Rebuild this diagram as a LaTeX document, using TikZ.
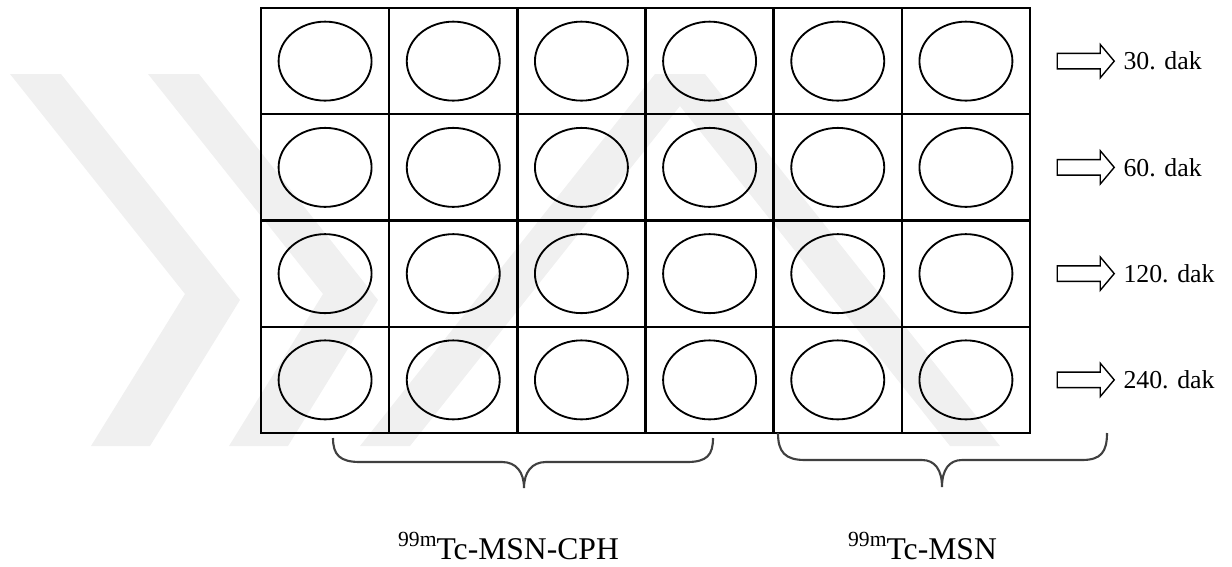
\documentclass[tikz,border=0pt]{standalone}
\usepackage{fontspec}
\setmainfont{Liberation Serif}
\usetikzlibrary{shapes.geometric,shapes.arrows,positioning}

\newcommand{\iso}[1]{{\fontsize{12.3}{14}\selectfont\raisebox{0.26cm}{#1}}}

\begin{document}
\begin{tikzpicture}[x=0.02cm, y=-0.02cm]
    \tikzset{cell/.style={draw, line width=1.4pt, minimum width=2.5634cm,
             minimum height=2.125cm, inner sep=0},
             well/.style={draw, ellipse, line width=1.05pt, minimum width=1.86cm,
             minimum height=1.58cm, inner sep=0},
             tarrow/.style={draw, single arrow, line width=0.8pt, minimum height=1.14cm,
             inner xsep=0, inner ysep=0.14cm, single arrow head extend=0.18cm,
             single arrow tip angle=100},
             tlabel/.style={font=\fontsize{14.7}{17}\selectfont, inner sep=0},
             glabel/.style={font=\fontsize{18}{21}\selectfont, inner sep=0, anchor=base},
             bracepath/.style={draw=black!75, line width=1.2pt},
             wmk/.style={fill=black!6}}
    \useasboundingbox (0,0) rectangle (1232,566);
    % watermark
    \fill[wmk] (10,74) -- (61,74) -- (240,300) -- (150,446) -- (91,446) -- (185,294) -- cycle;
    \fill[wmk] (148,74) -- (199,74) -- (378,300) -- (288,446) -- (229,446) -- (323,294) -- cycle;
    \fill[wmk] (360,446) -- (655,74) -- (705,74) -- (1000,446) -- (950,446) -- (680,106)
      -- (410,446) -- cycle;
    % plate
    \foreach \row in {1,...,4}{
      \foreach \col in {1,...,6}{
        \node[cell] (c\row\col) at ({261+(\col-0.5)*128.17},{8+(\row-0.5)*106.25}) {};
        \node[well] (w\row\col) at (c\row\col) {};
      }
    }
    % time points
    \foreach \row/\t in {1/30, 2/60, 3/120, 4/240}{
      \node[tarrow] (a\row) at (1082.5,{8+(\row-0.5)*106.25}) {};
      \node[tlabel, right=0.16cm of a\row] (t\row) {\t. dak};
    }
    % braces
    \coordinate (b1s) at (333,438);
    \coordinate (b1t) at (524,488);
    \coordinate (b1e) at (713,438);
    \coordinate (b2s) at (778,433);
    \coordinate (b2t) at (942,487);
    \coordinate (b2e) at (1107,433);
    \draw[bracepath] (b1s) .. controls (333,455) and (340,462) .. (360,462) -- (502,462)
      .. controls (516,462) and (524,472) .. (b1t)
      .. controls (524,472) and (532,462) .. (546,462) -- (687,462)
      .. controls (707,462) and (713,455) .. (b1e);
    \draw[bracepath] (b2s) .. controls (778,452) and (785,460) .. (805,460) -- (922,460)
      .. controls (935,460) and (942,470) .. (b2t)
      .. controls (942,470) and (949,460) .. (962,460) -- (1082,460)
      .. controls (1101,460) and (1107,452) .. (b2e);
    \node[glabel] (g1) at (508.5,559) {\iso{99m}Tc-MSN-CPH};
    \node[glabel] (g2) at (922.5,559) {\iso{99m}Tc-MSN};
\end{tikzpicture}
\end{document}
